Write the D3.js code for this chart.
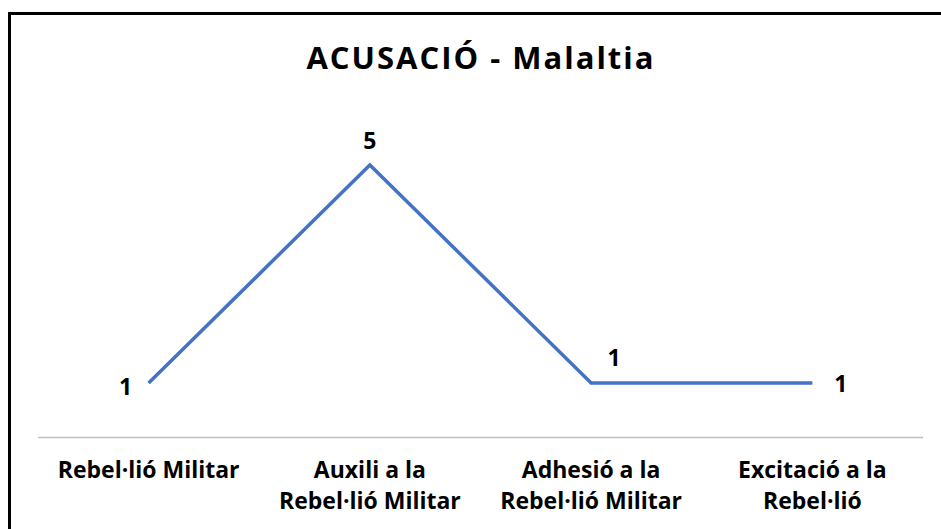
<!DOCTYPE html>
<html>
<head>
<meta charset="utf-8">
<script src="https://cdn.jsdelivr.net/npm/d3@7"></script>
<style>
  body { margin: 0; background: #fff; }
  text { font-family: "Open Sans", Lato, sans-serif; font-weight: bold; fill: #000; }
</style>
</head>
<body>
<div id="chart"></div>
<script>
var categories = [
  ["Rebel·lió Militar"],
  ["Auxili a la", "Rebel·lió Militar"],
  ["Adhesió a la", "Rebel·lió Militar"],
  ["Excitació a la", "Rebel·lió"]
];
var values = [1, 5, 1, 1];
var chartTitle = "ACUSACIÓ - Malaltia";

var width = 941, height = 529;
var left = 38, right = 923, axisY = 437.5;

var svg = d3.select("#chart").append("svg")
  .attr("width", width).attr("height", height);

svg.append("rect").attr("width", width).attr("height", height).attr("fill", "#fff");

// outer border (runs off the right and bottom edge)
svg.append("path")
  .attr("d", "M9.5," + (height + 5) + " V13.5 H" + (width + 5))
  .attr("fill", "none").attr("stroke", "#000").attr("stroke-width", 3);

svg.append("text")
  .attr("x", 481).attr("y", 69)
  .attr("text-anchor", "middle")
  .style("font-size", "31px")
  .style("letter-spacing", "2px")
  .text(chartTitle);

var x = d3.scaleBand()
  .domain(d3.range(categories.length))
  .range([left, right]);

var y = d3.scaleLinear()
  .domain([0, 6])
  .range([axisY, axisY - 6 * 54.5]);

// category axis
svg.append("line")
  .attr("x1", left).attr("x2", right)
  .attr("y1", axisY).attr("y2", axisY)
  .attr("stroke", "#bfbfbf").attr("stroke-width", 1.5);

svg.selectAll("text.cat")
  .data(categories)
  .enter()
  .append("text")
  .attr("class", "cat")
  .attr("text-anchor", "middle")
  .attr("x", function (d, i) { return x(i) + x.bandwidth() / 2; })
  .attr("y", 478)
  .style("font-size", "23px")
  .each(function (d) {
    var t = d3.select(this);
    d.forEach(function (s, j) {
      t.append("tspan")
        .attr("x", t.attr("x"))
        .attr("dy", j == 0 ? 0 : 31)
        .text(s);
    });
  });

var line = d3.line()
  .x(function (d, i) { return x(i) + x.bandwidth() / 2; })
  .y(function (d) { return y(d); });

svg.append("path")
  .datum(values)
  .attr("d", line)
  .attr("fill", "none")
  .attr("stroke", "#4472c4")
  .attr("stroke-width", 3.5)
  .attr("stroke-linejoin", "miter");

// data labels: left, above, above-right, right
var labelPos = [[-23, 12], [0, -16], [23, -17], [28.5, 9]];
svg.selectAll("text.lbl")
  .data(values)
  .enter()
  .append("text")
  .attr("class", "lbl")
  .attr("text-anchor", "middle")
  .attr("x", function (d, i) { return x(i) + x.bandwidth() / 2 + labelPos[i][0]; })
  .attr("y", function (d, i) { return y(d) + labelPos[i][1]; })
  .style("font-size", "23px")
  .text(function (d) { return d; });
</script>
</body>
</html>
